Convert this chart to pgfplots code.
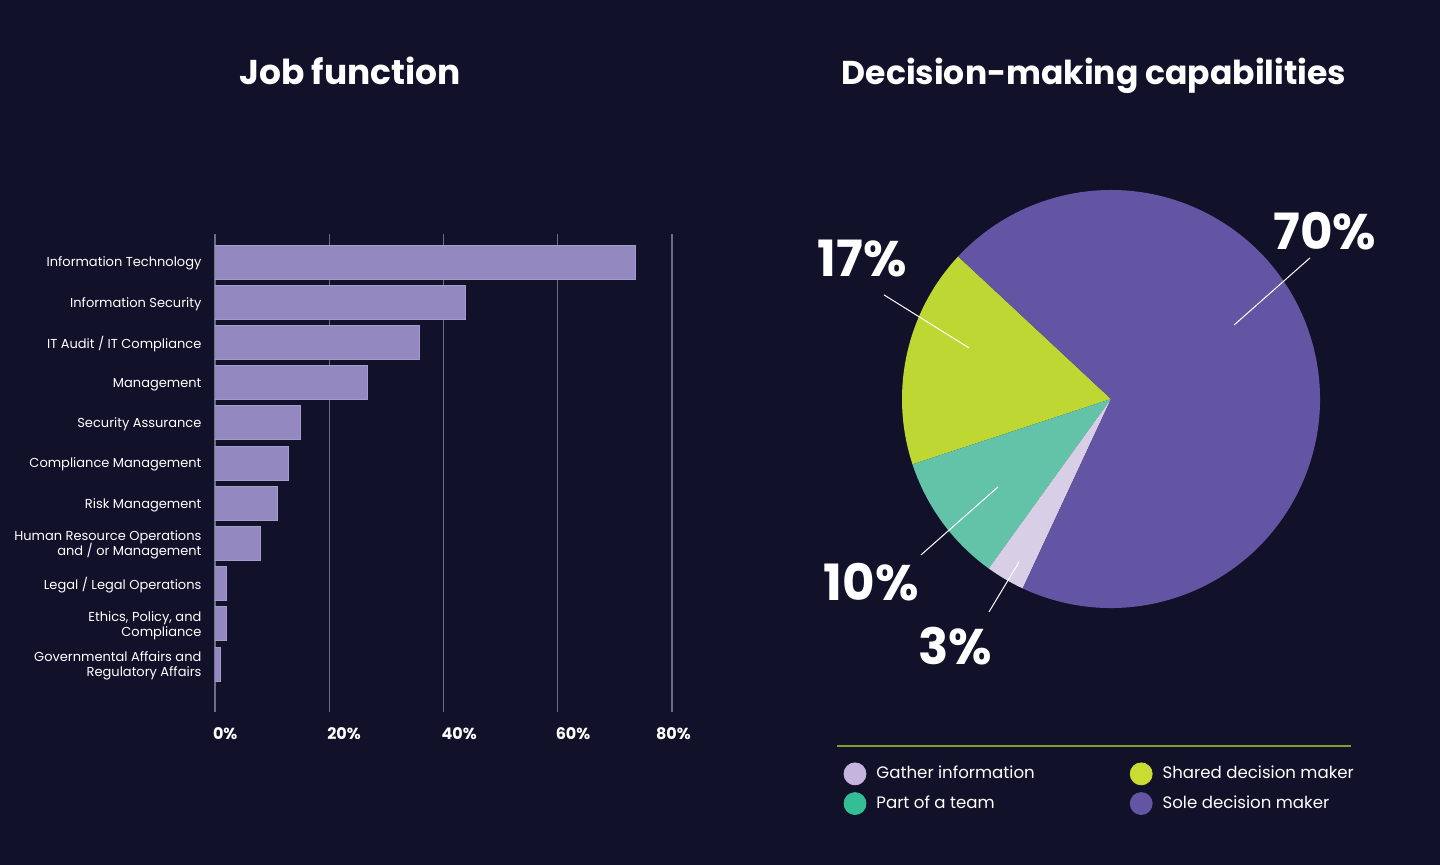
\documentclass[border=0pt]{standalone}
\usepackage{pgfplots}
\pgfplotsset{compat=1.18}
\usepackage{fontspec}
\setmainfont{Poppins}
\definecolor{bg}{RGB}{17,17,41}
\definecolor{barc}{RGB}{148,136,192}
\definecolor{baredge}{RGB}{165,155,205}
\definecolor{gridc}{RGB}{110,110,130}
\definecolor{sole}{RGB}{99,85,164}
\definecolor{shared}{RGB}{190,215,51}
\definecolor{team}{RGB}{98,195,168}
\definecolor{gather}{RGB}{216,207,230}
\definecolor{lgGather}{RGB}{196,180,222}
\definecolor{lgTeam}{RGB}{52,190,150}
\definecolor{lgShared}{RGB}{200,220,50}
\definecolor{lgSole}{RGB}{99,85,164}
\definecolor{sepc}{RGB}{130,160,40}
\newcommand{\ylabfont}{\fontsize{6.5}{7.5}\selectfont\lineskiplimit=-20pt\relax\lineskip=0pt\relax}
\begin{document}
\begin{tikzpicture}
\path[use as bounding box, fill=bg] (0,0) rectangle (720pt,432.5pt);
\node[font=\bfseries\fontsize{17.2}{19}\selectfont, text=white, anchor=base] at (175pt,390pt) {Job function};
\node[font=\bfseries\fontsize{16.5}{19}\selectfont, text=white, anchor=base] at (547pt,390pt) {Decision-making capabilities};

\begin{axis}[
  at={(107.5pt,76.5pt)}, anchor=south west, scale only axis,
  width=228.5pt, height=239pt,
  xmin=0, xmax=80, ymin=-0.7, ymax=11.19, y dir=reverse,
  xbar, bar width=17pt,
  xtick={0,20,40,60,80},
  xticklabels={0\%,20\%,40\%,60\%,\hspace*{-7pt}80\%},
  ytick={0,...,10},
  yticklabels={Information Technology, Information Security, IT Audit / IT Compliance, Management, Security Assurance, Compliance Management, Risk Management, {Human Resource Operations\\and / or Management}, Legal / Legal Operations, {Ethics, Policy, and\\Compliance}, {Governmental Affairs and\\Regulatory Affairs}},
  xmajorgrids, grid style={draw=gridc, line width=0.6pt},
  axis line style={draw=none}, major tick style={draw=none},
  tick label style={text=white},
  yticklabel style={font=\ylabfont, align=right, xshift=1pt, yshift=-0.8pt},
  xticklabel style={font=\bfseries\fontsize{8}{9}\selectfont, anchor=north west, xshift=-4.5pt, yshift=-4.5pt},
]
\addplot[fill=barc, draw=baredge, line width=0.5pt] coordinates {
 (73.6,0) (43.9,1) (35.8,2) (26.7,3) (14.9,4) (12.9,5) (11.0,6) (7.9,7) (2.1,8) (2.1,9) (1.0,10)};
\end{axis}

% pie data (percent) and start angle
\def\pShared{17}\def\pTeam{10}\def\pGather{3}\def\pSole{70}
\pgfmathsetmacro\aA{137}
\pgfmathsetmacro\aB{\aA+3.6*\pShared}
\pgfmathsetmacro\aC{\aB+3.6*\pTeam}
\pgfmathsetmacro\aD{\aC+3.6*\pGather}
\pgfmathsetmacro\aE{\aD+3.6*\pSole}

\begin{axis}[
  at={(555.5pt,233pt)}, anchor=center,
  x=104.5pt, y=104.5pt, xmin=-1, xmax=1, ymin=-1, ymax=1,
  hide axis, clip=false,
  legend style={draw=none, fill=none, text=white, font=\fontsize{8.3}{10}\selectfont,
    at={(-0.155,-0.358)}, anchor=north west, row sep=3pt,
    /tikz/every odd column/.append style={column sep=3pt},
    /tikz/every even column/.append style={column sep=45.5pt}},
  legend cell align=left, legend columns=2, transpose legend,
]
\fill[shared] (axis cs:0,0) -- (axis cs:{cos(\aA)},{sin(\aA)}) arc[start angle=\aA, end angle=\aB, radius=104.5pt] -- cycle;
\fill[team] (axis cs:0,0) -- (axis cs:{cos(\aB)},{sin(\aB)}) arc[start angle=\aB, end angle=\aC, radius=104.5pt] -- cycle;
\fill[gather] (axis cs:0,0) -- (axis cs:{cos(\aC)},{sin(\aC)}) arc[start angle=\aC, end angle=\aD, radius=104.5pt] -- cycle;
\fill[sole] (axis cs:0,0) -- (axis cs:{cos(\aD)},{sin(\aD)}) arc[start angle=\aD, end angle=\aE, radius=104.5pt] -- cycle;

\draw[white, line width=0.5pt] (axis cs:0.952,0.675) -- (axis cs:0.589,0.354);
\draw[white, line width=0.5pt] (axis cs:-1.086,0.498) -- (axis cs:-0.679,0.244);
\draw[white, line width=0.5pt] (axis cs:-0.909,-0.746) -- (axis cs:-0.541,-0.421);
\draw[white, line width=0.5pt] (axis cs:-0.584,-1.019) -- (axis cs:-0.440,-0.780);

\node[font=\bfseries\fontsize{25}{27}\selectfont, text=white] at (axis cs:1.024,0.804) {70\%};
\node[font=\bfseries\fontsize{25}{27}\selectfont, text=white] at (axis cs:-1.191,0.670) {17\%};
\node[font=\bfseries\fontsize{25}{27}\selectfont, text=white] at (axis cs:-1.148,-0.876) {10\%};
\node[font=\bfseries\fontsize{25}{27}\selectfont, text=white] at (axis cs:-0.746,-1.182) {3\%};

\draw[sepc, line width=0.8pt] (axis cs:-1.311,-1.660) -- (axis cs:1.148,-1.660);

\addlegendimage{legend image code/.code={\fill[lgGather] (0.2cm,0) circle (5.5pt);}}
\addlegendentry{Gather information}
\addlegendimage{legend image code/.code={\fill[lgTeam] (0.2cm,0) circle (5.5pt);}}
\addlegendentry{Part of a team}
\addlegendimage{legend image code/.code={\fill[lgShared] (0.2cm,0) circle (5.5pt);}}
\addlegendentry{Shared decision maker}
\addlegendimage{legend image code/.code={\fill[lgSole] (0.2cm,0) circle (5.5pt);}}
\addlegendentry{Sole decision maker}
\end{axis}
\end{tikzpicture}
\end{document}
